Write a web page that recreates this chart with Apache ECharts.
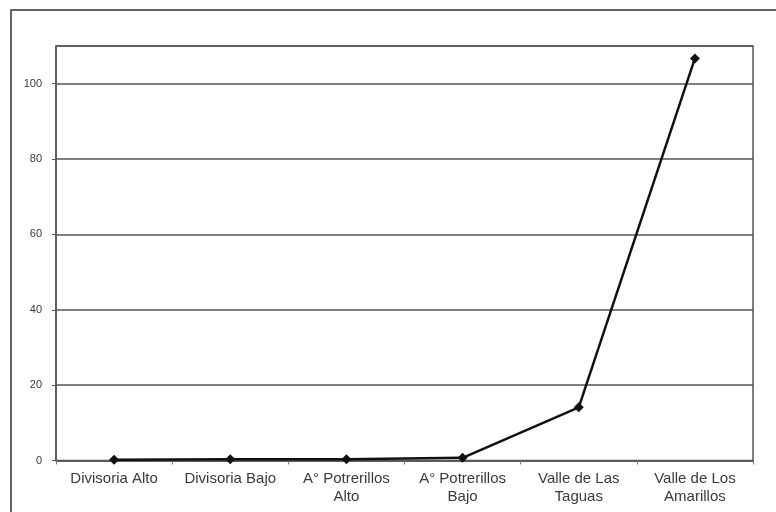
<!DOCTYPE html>
<html><head><meta charset="utf-8">
<script src="https://cdn.jsdelivr.net/npm/echarts@6/dist/echarts.min.js"></script>
<style>html,body{margin:0;padding:0;background:#fff}#c{width:776px;height:512px}</style>
</head><body><div id="c"></div>
<script>
var categories = ["Divisoria Alto", "Divisoria Bajo", "A° Potrerillos\nAlto", "A° Potrerillos\nBajo", "Valle de Las\nTaguas", "Valle de Los\nAmarillos"];
var values = [0.2, 0.3, 0.3, 0.7, 14.1, 106.7];
var yTicks = [0, 20, 40, 60, 80, 100];

var chart = echarts.init(document.getElementById('c'), null, {renderer: 'canvas'});
chart.setOption({
  animation: false,
  backgroundColor: '#fff',
  graphic: [{
    type: 'rect', shape: {x: 11, y: 10, width: 800, height: 600},
    style: {fill: 'none', stroke: '#333', lineWidth: 1.5}, silent: true, z: -1
  }],
  grid: {left: 56, top: 46, right: 23, bottom: 51.5, show: true, borderColor: '#555', borderWidth: 1.5, backgroundColor: 'transparent'},
  xAxis: {
    type: 'category', data: categories, boundaryGap: true,
    axisLine: {lineStyle: {color: '#555', width: 1.5}},
    axisTick: {show: true, length: 4, lineStyle: {color: '#777'}},
    axisLabel: {color: '#3a3a3a', fontFamily: 'Liberation Sans, Arial', fontSize: 15, lineHeight: 18, margin: 9, interval: 0}
  },
  yAxis: {
    type: 'value', min: 0, max: 110, interval: 20,
    axisLine: {show: true, lineStyle: {color: '#555', width: 1.5}},
    axisTick: {show: true, length: 4, lineStyle: {color: '#555'}},
    axisLabel: {color: '#3a3a3a', fontFamily: 'Liberation Sans, Arial', fontSize: 11, margin: 14, showMaxLabel: false,
      formatter: function (v) { return yTicks.indexOf(v) >= 0 ? String(v) : ''; }},
    splitLine: {show: true, lineStyle: {color: '#555', width: 1.5}}
  },
  series: [{
    type: 'line', data: values,
    symbol: 'diamond', symbolSize: 10,
    lineStyle: {color: '#111', width: 2.5},
    itemStyle: {color: '#111'}
  }]
});
</script></body></html>
